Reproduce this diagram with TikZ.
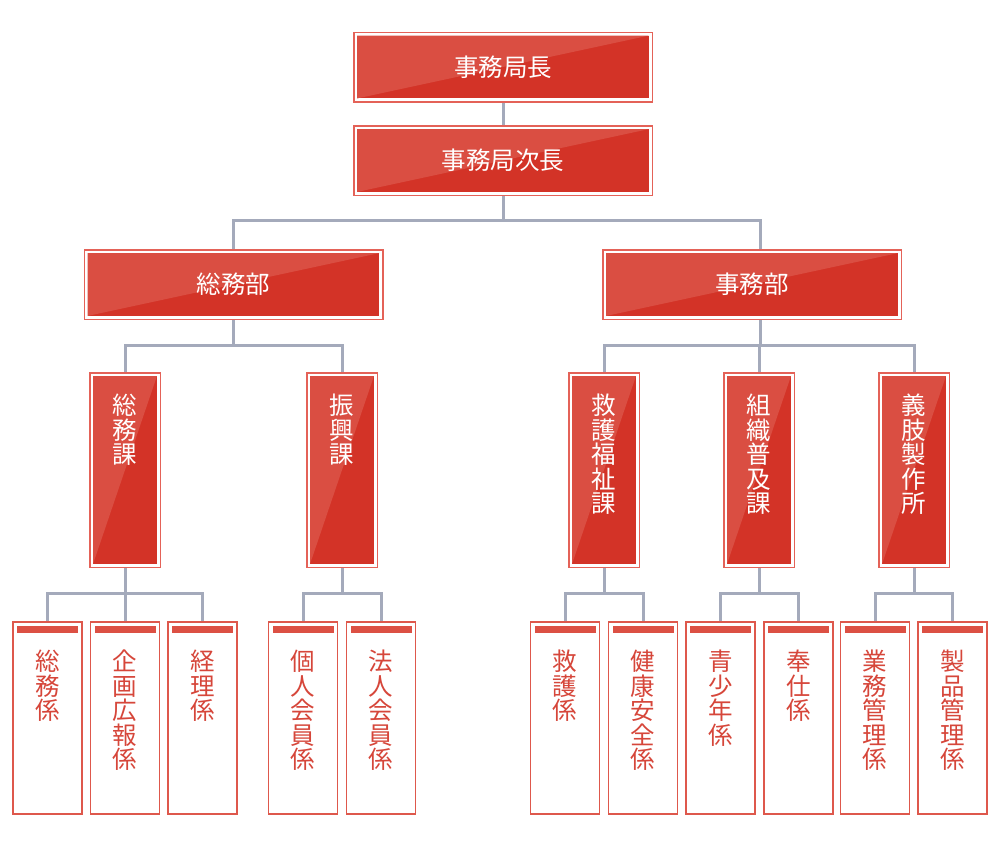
\documentclass[tikz,border=0pt]{standalone}
\usepackage{fontspec}
\newfontfamily\jp{Noto Sans CJK JP}
\definecolor{reddark}{RGB}{211,51,39}
\definecolor{redlight}{RGB}{218,78,66}
\definecolor{redborder}{RGB}{228,98,88}
\definecolor{leafred}{RGB}{222,88,76}
\definecolor{barred}{RGB}{220,80,68}
\definecolor{leaftext}{RGB}{214,70,58}
\definecolor{linegray}{RGB}{164,170,187}
\begin{document}
\begin{tikzpicture}[x=1pt,y=-1pt,
  conn/.style={draw=linegray, line width=3pt},
  redbox/.style={draw=redborder, line width=1.5pt, fill=white, inner sep=0pt,
    path picture={
      \fill[reddark] ([shift={(3.3pt,3.3pt)}]path picture bounding box.south west) rectangle ([shift={(-3.3pt,-3.3pt)}]path picture bounding box.north east);
      \fill[redlight] ([shift={(3.3pt,3.3pt)}]path picture bounding box.south west) -- ([shift={(3.3pt,-3.3pt)}]path picture bounding box.north west) -- ([shift={(-3.3pt,-3.3pt)}]path picture bounding box.north east) -- cycle;}},
  hbox/.style={redbox, minimum width=298.5pt, minimum height=69.5pt, text=white,
    font={\jp\fontsize{24.5}{24.5}\selectfont}},
  vbox/.style={redbox, minimum width=70.5pt, minimum height=194.5pt},
  vtext/.style={anchor=north, inner sep=0pt, align=center, text=white,
    font={\jp\fontsize{24.5}{24.5}\selectfont\lineskiplimit=-20pt}},
  leaf/.style={draw=leafred, line width=1.8pt, fill=white, minimum width=69pt, minimum height=192pt, inner sep=0pt,
    path picture={\fill[barred] ([shift={(4pt,-4pt)}]path picture bounding box.north west) rectangle ([shift={(-4pt,-11pt)}]path picture bounding box.north east);}},
  ltext/.style={anchor=north, inner sep=0pt, align=center, text=leaftext,
    font={\jp\fontsize{24.5}{24.5}\selectfont\lineskiplimit=-20pt}}]
\useasboundingbox (0,0) rectangle (1000,847);

% top levels
\node[hbox] (n1) at (503,67) {事務局長};
\node[hbox] (n2) at (503,160.5) {事務局次長};
\node[hbox] (d1) at (233.5,284.5) {総務部};
\node[hbox] (d2) at (752,284.5) {事務部};

% sections
\node[vbox] (k1) at (125,470) {};
\node[vbox] (k2) at (342,470) {};
\node[vbox] (k3) at (604,470) {};
\node[vbox] (k4) at (759,470) {};
\node[vbox] (k5) at (914,470) {};
\node[vtext] (t1) at ([yshift=-22pt]k1.north) {総\\務\\課};
\node[vtext] (t2) at ([yshift=-22pt]k2.north) {振\\興\\課};
\node[vtext] (t3) at ([yshift=-22pt]k3.north) {救\\護\\福\\祉\\課};
\node[vtext] (t4) at ([yshift=-22pt]k4.north) {組\\織\\普\\及\\課};
\node[vtext] (t5) at ([yshift=-22pt]k5.north) {義\\肢\\製\\作\\所};

% units
\node[leaf] (l1) at (47.5,718) {};
\node[leaf] (l2) at (125,718) {};
\node[leaf] (l3) at (202.5,718) {};
\node[leaf] (l4) at (303,718) {};
\node[leaf] (l5) at (381,718) {};
\node[leaf] (l6) at (565,718) {};
\node[leaf] (l7) at (643,718) {};
\node[leaf] (l8) at (720.5,718) {};
\node[leaf] (l9) at (798.5,718) {};
\node[leaf] (l10) at (875,718) {};
\node[leaf] (l11) at (952.5,718) {};
\node[ltext] (u1) at ([yshift=-29pt]l1.north) {総\\務\\係};
\node[ltext] (u2) at ([yshift=-29pt]l2.north) {企\\画\\広\\報\\係};
\node[ltext] (u3) at ([yshift=-29pt]l3.north) {経\\理\\係};
\node[ltext] (u4) at ([yshift=-29pt]l4.north) {個\\人\\会\\員\\係};
\node[ltext] (u5) at ([yshift=-29pt]l5.north) {法\\人\\会\\員\\係};
\node[ltext] (u6) at ([yshift=-29pt]l6.north) {救\\護\\係};
\node[ltext] (u7) at ([yshift=-29pt]l7.north) {健\\康\\安\\全\\係};
\node[ltext] (u8) at ([yshift=-29pt]l8.north) {青\\少\\年\\係};
\node[ltext] (u9) at ([yshift=-29pt]l9.north) {奉\\仕\\係};
\node[ltext] (u10) at ([yshift=-29pt]l10.north) {業\\務\\管\\理\\係};
\node[ltext] (u11) at ([yshift=-29pt]l11.north) {製\\品\\管\\理\\係};

% connectors
\draw[conn] (n1.south) -- (n2.north);
\draw[conn] (n2.south) -- ++(0,24) -| (d1.north);
\draw[conn] (n2.south) -- ++(0,24) -| ([xshift=8pt]d2.north);
\draw[conn] (d1.south) -- ++(0,25) -| (k1.north);
\draw[conn] (d1.south) -- ++(0,25) -| (k2.north);
\draw[conn] ([xshift=8pt]d2.south) -- ++(0,25) -| (k3.north);
\draw[conn] ([xshift=8pt]d2.south) -- ++(0,25) -| (k4.north);
\draw[conn] ([xshift=8pt]d2.south) -- ++(0,25) -| (k5.north);
\draw[conn] (k1.south) -- ++(0,25) -| (l1.north);
\draw[conn] (k1.south) -- ++(0,25) -| (l2.north);
\draw[conn] (k1.south) -- ++(0,25) -| (l3.north);
\draw[conn] (k2.south) -- ++(0,25) -| (l4.north);
\draw[conn] (k2.south) -- ++(0,25) -| (l5.north);
\draw[conn] (k3.south) -- ++(0,25) -| (l6.north);
\draw[conn] (k3.south) -- ++(0,25) -| (l7.north);
\draw[conn] (k4.south) -- ++(0,25) -| (l8.north);
\draw[conn] (k4.south) -- ++(0,25) -| (l9.north);
\draw[conn] (k5.south) -- ++(0,25) -| (l10.north);
\draw[conn] (k5.south) -- ++(0,25) -| (l11.north);
\end{tikzpicture}
\end{document}
